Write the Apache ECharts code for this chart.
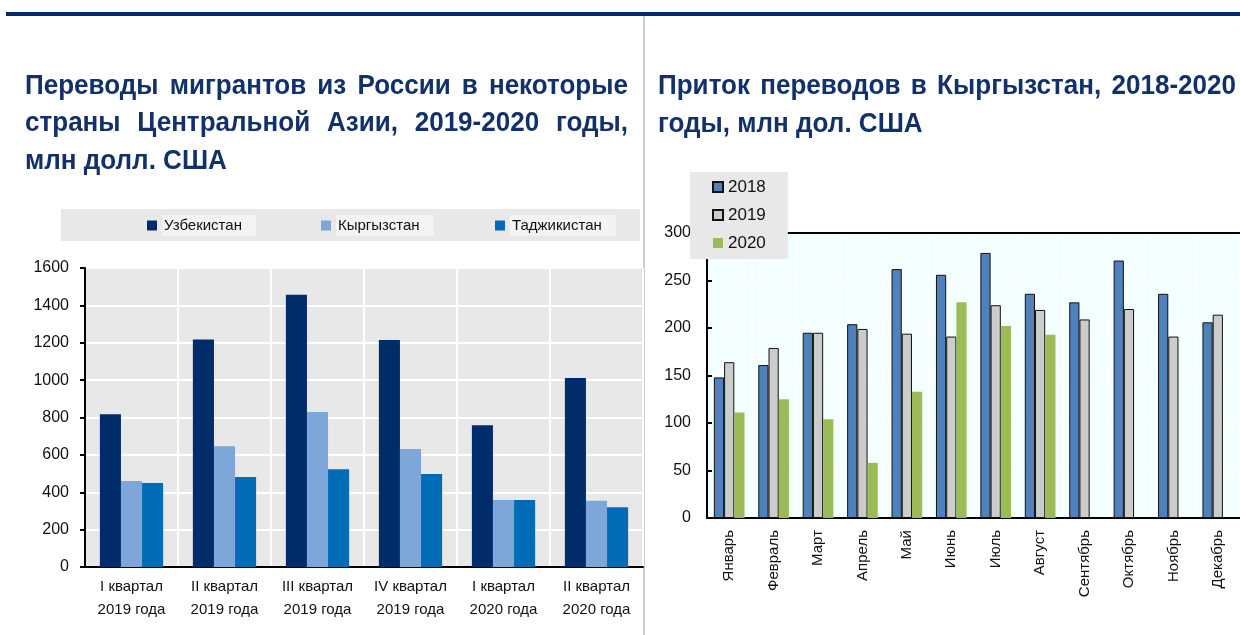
<!DOCTYPE html>
<html>
<head>
<meta charset="utf-8">
<script src="https://cdn.jsdelivr.net/npm/echarts@6/dist/echarts.min.js"></script>
<style>
  html, body { margin: 0; padding: 0; background: #fff; }
  #chart { width: 1240px; height: 635px; }
</style>
</head>
<body>
<div id="chart"></div>
<script>
// левый график: переводы из России, млн долл. США
const quarters = ["I квартал\n2019 года", "II квартал\n2019 года", "III квартал\n2019 года",
                  "IV квартал\n2019 года", "I квартал\n2020 года", "II квартал\n2020 года"];
const uzbekistan = [818, 1218, 1457, 1215, 758, 1011];
const kyrgyzstanQ = [460, 646, 829, 632, 358, 354];
const tajikistan = [450, 481, 523, 497, 358, 320];

// правый график: приток переводов в Кыргызстан, млн дол. США
const months = ["Январь", "Февраль", "Март", "Апрель", "Май", "Июнь",
                "Июль", "Август", "Сентябрь", "Октябрь", "Ноябрь", "Декабрь"];
const y2018 = [148, 161, 195, 204, 262, 256, 279, 236, 227, 271, 236, 206];
const y2019 = [164, 179, 195, 199, 194, 191, 224, 219, 209, 220, 191, 214];
const y2020 = [111, 125, 104, 58, 133, 227, 202, 193, null, null, null, null];

const titleLeft = ["Переводы мигрантов из России в некоторые",
                   "страны Центральной Азии, 2019-2020 годы,",
                   "млн долл. США"];
const titleRight = ["Приток переводов в Кыргызстан, 2018-2020",
                    "годы, млн дол. США"];

const FONT = "'Liberation Sans', Arial, sans-serif";
const TITLE_COLOR = "#12306a";
const TITLE_SCALE = 0.93; // чуть сжатый шрифт, как в оригинале
const ctx = document.createElement("canvas").getContext("2d");

// строки заголовка с выравниванием по ширине (кроме последней)
function titleLines(lines, x0, x1, y0, step) {
    const font = "bold 28px " + FONT;
    ctx.font = font;
    const w = function (s) { return ctx.measureText(s).width * TITLE_SCALE; };
    const word = function (text, x, y) {
        return { type: "text", x: x, y: y, scaleX: TITLE_SCALE,
            style: { text: text, font: font, fill: TITLE_COLOR, verticalAlign: "middle" } };
    };
    const out = [];
    lines.forEach(function (line, i) {
        const y = y0 + i * step;
        const words = line.split(" ");
        if (i === lines.length - 1 || words.length < 2) {
            out.push(word(line, x0, y));
            return;
        }
        const total = words.reduce(function (s, t) { return s + w(t); }, 0);
        const gap = (x1 - x0 - total) / (words.length - 1);
        let x = x0;
        words.forEach(function (t) {
            out.push(word(t, x, y));
            x += w(t) + gap;
        });
    });
    return out;
}

const chartDom = document.getElementById("chart");
const myChart = echarts.init(chartDom);

const plain = function (v) { return String(v); };

const leftLegend = function (name, left) {
    return {
        data: [name],
        left: left,
        top: 215,
        padding: 0,
        icon: "rect",
        itemWidth: 10,
        itemHeight: 10,
        textStyle: {
            fontFamily: FONT, fontSize: 15, color: "#111",
            backgroundColor: "#f3f3f3", padding: [3, 14, 3, 2],
        },
    };
};

const option = {
    animation: false,
    textStyle: { fontFamily: FONT },
    graphic: [
        { type: "rect", shape: { x: 6, y: 12, width: 1234, height: 4 }, style: { fill: "#002d6a" } },
        { type: "line", shape: { x1: 644, y1: 16, x2: 644, y2: 635 }, style: { stroke: "#bdbdbd", lineWidth: 1.5 } },
        { type: "rect", z: -1, shape: { x: 61, y: 209, width: 579, height: 32 }, style: { fill: "#e8e8e8" } },
    ].concat(titleLines(titleLeft, 25, 628, 86, 37.5))
     .concat(titleLines(titleRight, 658, 1236, 86, 38.5)),
    legend: [
        leftLegend("Узбекистан", 147),
        leftLegend("Кыргызстан", 321),
        leftLegend("Таджикистан", 495),
        {
            data: ["2018", "2019", "2020"],
            orient: "vertical",
            left: 690,
            top: 172,
            padding: [5, 22, 6, 22],
            itemGap: 8,
            icon: "rect",
            itemWidth: 10,
            itemHeight: 10,
            backgroundColor: "#e8e8e8",
            textStyle: { fontFamily: FONT, fontSize: 17, color: "#111", lineHeight: 20 },
        },
    ],
    grid: [
        { left: 85, top: 268, width: 558, height: 299, show: true, backgroundColor: "#e8e8e8", borderWidth: 0 },
        { left: 707, top: 233, width: 545, height: 285, show: true, backgroundColor: "#f4ffff", borderWidth: 0 },
    ],
    xAxis: [
        {
            type: "category", gridIndex: 0, data: quarters,
            axisLine: { lineStyle: { color: "#000", width: 2 } },
            axisTick: { inside: true, length: 5, interval: 0, lineStyle: { color: "#000", width: 2 } },
            axisLabel: { interval: 0, margin: 8, fontSize: 15, lineHeight: 23, color: "#111" },
            splitLine: { show: true, interval: 0, lineStyle: { color: "#fff", width: 2 } },
        },
        {
            type: "category", gridIndex: 1, data: months,
            axisLine: { lineStyle: { color: "#000", width: 2 } },
            axisTick: { inside: true, length: 5, interval: 0, lineStyle: { color: "#000", width: 2 } },
            axisLabel: { interval: 0, rotate: 90, margin: 12, fontSize: 15, color: "#111" },
            splitLine: { show: true, interval: 0, lineStyle: { color: "#fff", width: 1.5 } },
        },
        {
            type: "category", gridIndex: 1, data: months, position: "top",
            axisLine: { lineStyle: { color: "#000", width: 2 } },
            axisTick: { show: false },
            axisLabel: { show: false },
        },
    ],
    yAxis: [
        {
            type: "value", gridIndex: 0, min: 0, max: 1600, interval: 200,
            axisLine: { show: true, lineStyle: { color: "#000", width: 2 } },
            axisTick: { show: true, length: 5, lineStyle: { color: "#000", width: 2 } },
            axisLabel: { margin: 16, fontSize: 16, color: "#111", formatter: plain },
            splitLine: { lineStyle: { color: "#fff", width: 2 } },
        },
        {
            type: "value", gridIndex: 1, min: 0, max: 300, interval: 50,
            axisLine: { show: true, lineStyle: { color: "#000", width: 2 } },
            axisTick: { show: true, inside: true, length: 5, lineStyle: { color: "#000", width: 2 } },
            axisLabel: { margin: 16, fontSize: 16, color: "#111", formatter: plain },
            splitLine: { lineStyle: { color: "#fff", width: 1.5 } },
        },
    ],
    series: [
        { name: "Узбекистан", type: "bar", xAxisIndex: 0, yAxisIndex: 0, data: uzbekistan,
          barGap: "0%", barCategoryGap: "32%", itemStyle: { color: "#002d6a" } },
        { name: "Кыргызстан", type: "bar", xAxisIndex: 0, yAxisIndex: 0, data: kyrgyzstanQ,
          itemStyle: { color: "#7ea7d9" } },
        { name: "Таджикистан", type: "bar", xAxisIndex: 0, yAxisIndex: 0, data: tajikistan,
          itemStyle: { color: "#006bb6" } },
        { name: "2018", type: "bar", xAxisIndex: 1, yAxisIndex: 1, data: y2018,
          barGap: "0%", barCategoryGap: "31%",
          itemStyle: { color: "#4f81bd", borderColor: "#111", borderWidth: 1 } },
        { name: "2019", type: "bar", xAxisIndex: 1, yAxisIndex: 1, data: y2019,
          itemStyle: { color: "#cccccc", borderColor: "#111", borderWidth: 1 } },
        { name: "2020", type: "bar", xAxisIndex: 1, yAxisIndex: 1, data: y2020,
          itemStyle: { color: "#9bbb59" } },
    ],
};
myChart.setOption(option);

window.addEventListener("resize", function () {
    myChart.resize();
});
</script>
</body>
</html>
